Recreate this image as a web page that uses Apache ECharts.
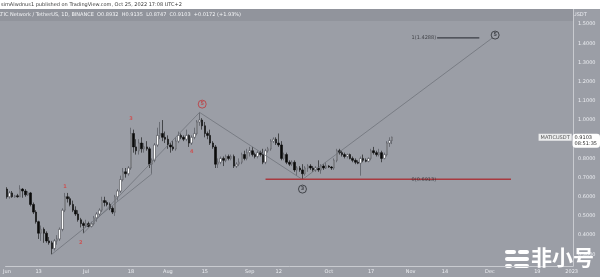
<!DOCTYPE html>
<html><head><meta charset="utf-8">
<script src="https://cdn.jsdelivr.net/npm/echarts@6/dist/echarts.min.js"></script>
<style>html,body{margin:0;padding:0;background:#9b9ea6;overflow:hidden}#c{width:600px;height:277px}</style>
</head><body><div id="c"></div>
<script>
// ---------- data ----------
const firstDay = '2022-06-01';
const lastDay = '2023-01-01';
// daily candles from 2022-06-01: [open, close, low, high]
const ohlc = [
 [0.64,0.60,0.59,0.65],[0.60,0.62,0.59,0.63],[0.62,0.60,0.595,0.63],[0.60,0.605,0.595,0.61],[0.605,0.60,0.595,0.615],
 [0.60,0.64,0.60,0.66],[0.64,0.63,0.595,0.645],[0.63,0.61,0.60,0.64],[0.61,0.62,0.605,0.63],[0.62,0.56,0.55,0.625],
 [0.56,0.52,0.51,0.57],[0.52,0.47,0.46,0.53],[0.47,0.41,0.38,0.475],[0.41,0.43,0.37,0.45],[0.43,0.41,0.36,0.44],
 [0.41,0.37,0.36,0.42],[0.37,0.36,0.35,0.39],[0.36,0.33,0.30,0.37],[0.33,0.37,0.32,0.38],[0.37,0.38,0.35,0.40],
 [0.38,0.43,0.37,0.44],[0.43,0.53,0.42,0.54],[0.53,0.60,0.52,0.62],[0.60,0.59,0.57,0.62],[0.59,0.56,0.55,0.60],
 [0.56,0.53,0.52,0.58],[0.53,0.51,0.50,0.55],[0.51,0.48,0.47,0.53],[0.48,0.46,0.44,0.49],[0.46,0.45,0.41,0.47],
 // July
 [0.45,0.46,0.44,0.48],[0.46,0.445,0.44,0.47],[0.445,0.46,0.44,0.47],[0.46,0.49,0.45,0.50],[0.49,0.51,0.47,0.52],
 [0.51,0.53,0.50,0.54],[0.53,0.58,0.52,0.60],[0.58,0.57,0.55,0.60],[0.57,0.56,0.55,0.58],[0.56,0.54,0.53,0.57],
 [0.54,0.52,0.51,0.55],[0.52,0.60,0.50,0.61],[0.60,0.63,0.58,0.64],[0.63,0.69,0.62,0.71],[0.69,0.73,0.68,0.75],
 [0.73,0.72,0.70,0.75],[0.72,0.75,0.71,0.76],[0.75,0.93,0.74,0.96],[0.93,0.86,0.83,0.95],[0.86,0.84,0.82,0.90],
 [0.84,0.88,0.82,0.90],[0.88,0.85,0.83,0.91],[0.85,0.86,0.83,0.88],[0.86,0.85,0.84,0.89],[0.85,0.77,0.75,0.86],
 [0.77,0.79,0.72,0.80],[0.79,0.87,0.78,0.88],[0.87,0.92,0.86,0.96],[0.92,0.93,0.90,0.99],[0.93,0.91,0.89,1.00],
 [0.91,0.90,0.88,0.94],
 // August
 [0.90,0.87,0.85,0.92],[0.87,0.86,0.83,0.88],[0.86,0.85,0.84,0.89],[0.85,0.89,0.84,0.91],[0.89,0.92,0.88,0.94],
 [0.92,0.91,0.90,0.93],[0.91,0.90,0.89,0.92],[0.90,0.92,0.89,0.95],[0.92,0.88,0.86,0.925],[0.88,0.91,0.87,0.92],
 [0.91,0.93,0.90,0.96],[0.93,0.99,0.92,1.00],[0.99,1.00,0.97,1.04],[1.00,0.97,0.95,1.01],[0.97,0.93,0.91,0.99],
 [0.93,0.92,0.90,0.94],[0.92,0.88,0.87,0.95],[0.88,0.86,0.85,0.89],[0.86,0.77,0.75,0.87],[0.77,0.78,0.75,0.80],
 [0.78,0.80,0.77,0.81],[0.80,0.79,0.76,0.81],[0.79,0.81,0.78,0.82],[0.81,0.80,0.79,0.82],[0.80,0.81,0.79,0.82],
 [0.81,0.76,0.75,0.82],[0.76,0.77,0.75,0.78],[0.77,0.78,0.76,0.80],[0.78,0.82,0.77,0.83],[0.82,0.80,0.79,0.84],
 [0.80,0.83,0.79,0.85],
 // September
 [0.83,0.84,0.81,0.86],[0.84,0.82,0.81,0.86],[0.82,0.81,0.80,0.83],[0.81,0.83,0.80,0.84],[0.83,0.82,0.81,0.84],
 [0.82,0.78,0.77,0.85],[0.78,0.84,0.77,0.85],[0.84,0.85,0.83,0.86],[0.85,0.89,0.84,0.90],[0.89,0.90,0.88,0.91],
 [0.90,0.88,0.87,0.91],[0.88,0.87,0.86,0.93],[0.87,0.80,0.79,0.89],[0.80,0.82,0.79,0.83],[0.82,0.78,0.77,0.83],
 [0.78,0.77,0.76,0.79],[0.77,0.78,0.76,0.79],[0.78,0.74,0.73,0.79],[0.74,0.75,0.71,0.76],[0.75,0.74,0.73,0.76],
 [0.74,0.72,0.69,0.77],[0.72,0.75,0.71,0.76],[0.75,0.76,0.73,0.77],[0.76,0.75,0.74,0.77],[0.75,0.74,0.73,0.76],
 [0.74,0.75,0.73,0.76],[0.75,0.74,0.73,0.79],[0.74,0.76,0.72,0.77],[0.76,0.75,0.74,0.77],[0.75,0.76,0.745,0.78],
 // October
 [0.76,0.755,0.75,0.765],[0.755,0.75,0.74,0.76],[0.75,0.79,0.74,0.80],[0.79,0.84,0.78,0.85],[0.84,0.83,0.82,0.85],
 [0.83,0.82,0.81,0.84],[0.82,0.81,0.80,0.83],[0.81,0.82,0.80,0.825],[0.82,0.80,0.795,0.825],[0.80,0.79,0.78,0.81],
 [0.79,0.78,0.77,0.80],[0.78,0.775,0.77,0.79],[0.775,0.80,0.71,0.81],[0.80,0.79,0.78,0.82],[0.79,0.785,0.78,0.80],
 [0.785,0.80,0.78,0.805],[0.80,0.84,0.79,0.85],[0.84,0.83,0.82,0.86],[0.83,0.82,0.81,0.84],[0.82,0.83,0.81,0.85],
 [0.83,0.80,0.78,0.84],[0.80,0.82,0.795,0.83],[0.82,0.88,0.81,0.89],[0.88,0.8932,0.86,0.91],[0.8932,0.9103,0.8747,0.9135]
];
const tickDates  = ['2022-06-01','2022-06-13','2022-07-01','2022-07-18','2022-08-01','2022-08-15','2022-09-01','2022-09-12','2022-10-01','2022-10-17','2022-11-01','2022-11-14','2022-12-01','2022-12-19','2023-01-01'];
const tickLabels = ['Jun','13','Jul','18','Aug','15','Sep','12','Oct','17','Nov','14','Dec','19','2023'];
// drawn trend lines: [startDate, startValue, endDate, endValue]
const trendLines = [
 ['2022-06-18',0.30,'2022-07-26',0.72],
 ['2022-06-30',0.41,'2022-08-13',1.04],
 ['2022-08-13',1.04,'2022-09-21',0.69],
 ['2022-09-21',0.69,'2022-12-02',1.4288]
];
// fib levels: [label, value, fromDate, toDate, colour]
const fibLevels = [
 ['1(1.4288)',1.4288,'2022-11-11','2022-11-27','#3a3d44'],
 ['0(0.6913)',0.6913,'2022-09-07','2022-12-09','#a8393f']
];
const fibLabelDate = '2022-11-06';
// wave labels
const waveDates  = ['2022-06-23','2022-06-29','2022-07-18','2022-08-10','2022-08-14','2022-09-21','2022-12-03'];
const waveValues = [0.65,0.36,1.005,0.833,1.083,0.64,1.443];
const waveTexts  = ['1','2','3','4','5','3','5'];
const waveCircled= [false,false,false,false,true,true,true];
const waveColors = ['#d8403e','#d8403e','#d8403e','#d8403e','#c0363a','#2c2e33','#2c2e33'];
const symbolName = 'MATICUSDT';
const clockText = '08:51:35';
const headerTop = 'simAlwdnus1 published on TradingView.com, Oct 25, 2022 17:08 UTC+2';
const headerSeries = 'MATIC Network / TetherUS, 1D, BINANCE  O0.8932  H0.9135  L0.8747  C0.9103  +0.0172 (+1.93%)';

// ---------- build ----------
const fmt = d => d.toISOString().slice(0,10);
const categories = [];
for (let d = new Date(firstDay+'T00:00:00Z'); fmt(d) <= lastDay; d.setUTCDate(d.getUTCDate()+1)) categories.push(fmt(d));
const lastClose = ohlc[ohlc.length-1][1];

const series = [{
  type:'candlestick', data: ohlc, barWidth: 2,
  itemStyle:{color:'#ffffff', color0:'#0a0a0a', borderColor:'#4a4c52', borderColor0:'#0a0a0a', borderWidth:0.6}
}];
trendLines.forEach(t => series.push({type:'line', data:[[t[0],t[1]],[t[2],t[3]]], symbol:'none', silent:true,
  lineStyle:{color:'#70737b', width:0.8}, z:3}));
fibLevels.forEach(f => series.push({type:'line', data:[[f[2],f[1]],[f[3],f[1]]], symbol:'none', silent:true,
  lineStyle:{color:f[4], width:1.3}, z:3}));
series.push({type:'scatter', symbolSize:0, silent:true, z:5,
  data: fibLevels.map(f => ({value:[fibLabelDate,f[1]], label:{show:true, formatter:f[0], position:'inside', color:'#2a2c31', fontSize:5, fontFamily:'DejaVu Sans'}}))});
series.push({type:'scatter', silent:true, z:6,
  data: waveDates.map((d,i) => ({value:[d,waveValues[i]],
     symbol:'circle', symbolSize: waveCircled[i]?8:0,
     itemStyle:{color:'rgba(0,0,0,0)', borderColor:waveColors[i], borderWidth:1},
     label:{show:true, formatter:waveTexts[i], position:'inside', color:waveColors[i], fontSize:5, fontWeight:'bold', fontFamily:'DejaVu Sans'}}))});
// symbol tag at the right edge, on the last price
series.push({type:'scatter', symbolSize:0, silent:true, z:7, clip:false,
  data:[{value:[lastDay,lastClose], label:{show:true, position:'left', distance:0, formatter:symbolName,
    backgroundColor:'#ffffff', color:'#2a2a2a', fontSize:5, padding:[1,2,1,2], fontFamily:'DejaVu Sans'}}]});

const chart = echarts.init(document.getElementById('c'), null, {renderer:'canvas'});
chart.setOption({
  animation:false,
  backgroundColor:'#9b9ea6',
  grid:{left:1, right:27, top:9, bottom:11, containLabel:false},
  xAxis:{type:'category', data:categories, boundaryGap:true,
    axisLine:{show:true, lineStyle:{color:'#c9cbd0', width:1}}, axisTick:{show:false}, splitLine:{show:false},
    axisLabel:{interval:(i,v)=>tickDates.includes(v), formatter:v=>tickLabels[tickDates.indexOf(v)],
      color:'#eceef2', fontSize:5, margin:3, fontFamily:'DejaVu Sans', hideOverlap:false}},
  yAxis:{type:'value', position:'right', min:0.239, max:1.579, splitNumber:13, scale:true,
    name:'USDT', nameLocation:'end', nameGap:-8, nameTextStyle:{color:'#eceef2', fontSize:5, align:'left', padding:[0,0,0,0], fontFamily:'DejaVu Sans'},
    axisLine:{show:true, lineStyle:{color:'#c9cbd0', width:1}}, axisTick:{show:false}, splitLine:{show:false},
    axisLabel:{color:'#eceef2', fontSize:5, margin:5, showMinLabel:false, showMaxLabel:false,
      formatter:v=>v.toFixed(4), fontFamily:'DejaVu Sans'},
    axisPointer:{show:true, status:'show', value:lastClose, triggerTooltip:false, lineStyle:{opacity:0},
      label:{show:true, formatter:p=>Number(p.value).toFixed(4)+'\n'+clockText, backgroundColor:'#ffffff', color:'#2a2a2a',
        fontSize:5, lineHeight:6, padding:[1,3,1,2], margin:2, fontFamily:'DejaVu Sans'}}},
  axisPointer:{triggerOn:'none'},
  graphic:[
    {type:'rect', left:0, top:0, shape:{width:600, height:9}, style:{fill:'#ffffff'}, z:10},
    {type:'rect', left:0, top:9, shape:{width:573, height:12}, style:{fill:'#91949c'}, z:-1, silent:true},
    {type:'text', left:1, top:2, style:{text:headerTop, fill:'#3a3a3a', fontSize:5, fontFamily:'DejaVu Sans'}, z:11},
    {type:'text', left:-7, top:12, style:{text:headerSeries, fill:'#f4f5f7', fontSize:5, fontFamily:'DejaVu Sans'}, z:11},
    {type:'group', left:505, top:250, z:12, children:[
      {type:'rect', shape:{x:0,y:0,width:11,height:4,r:2}, style:{fill:'#ffffff'}},
      {type:'rect', shape:{x:13,y:0,width:11,height:4,r:2}, style:{fill:'#ffffff'}},
      {type:'rect', shape:{x:0,y:7,width:24,height:4,r:2}, style:{fill:'#ffffff'}},
      {type:'rect', shape:{x:0,y:14,width:7,height:4,r:2}, style:{fill:'#ffffff'}},
      {type:'rect', shape:{x:9,y:14,width:15,height:4,r:2}, style:{fill:'#ffffff'}}
    ]},
    {type:'text', left:531, top:247, style:{text:'非小号', fill:'#ffffff', fontSize:21, fontWeight:'bold', fontFamily:'Noto Sans CJK SC'}, z:12}
  ],
  series
});
</script></body></html>
